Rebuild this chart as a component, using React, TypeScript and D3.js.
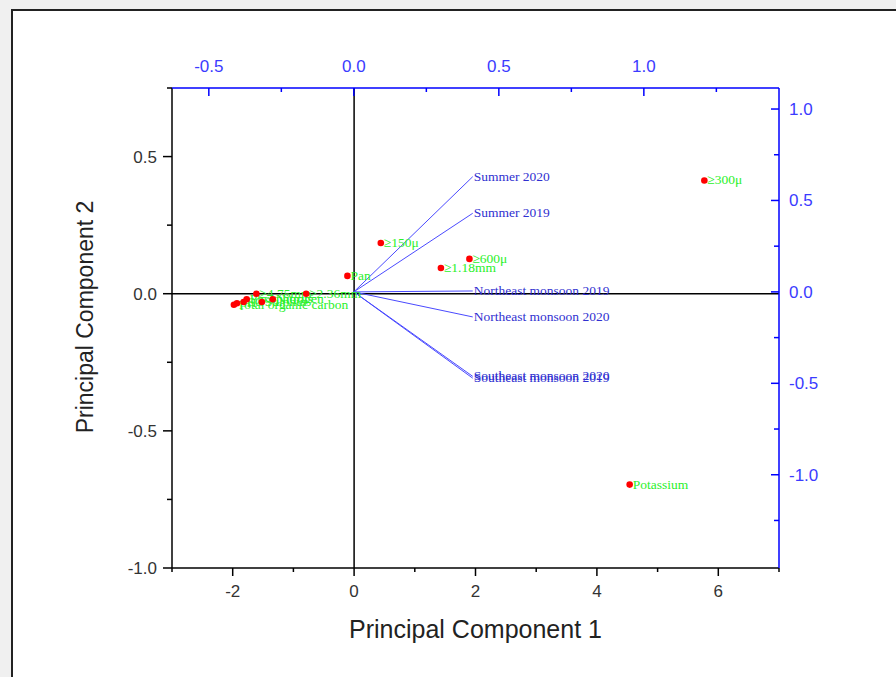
import React from "react";
import * as d3 from "d3";

// Scores (bottom/left axes)
const scoreNames = ["≥300μ", "Potassium", "≥150μ", "≥600μ", "≥1.18mm", "Pan", "≥4.75mm", "≥2.36mm", "Nitrogen", "Phosphorus", "EC", "pH", "Total organic carbon", "Sulphur"];
const scoreX = [5.77, 4.54, 0.44, 1.9, 1.43, -0.11, -1.61, -0.79, -1.34, -1.77, -1.82, -1.93, -1.98, -1.52];
const scoreY = [0.413, -0.696, 0.185, 0.127, 0.094, 0.065, 0.0, 0.0, -0.02, -0.02, -0.03, -0.035, -0.04, -0.03];

// Loadings (top/right axes)
const loadingNames = ["Summer 2020", "Summer 2019", "Northeast monsoon 2019", "Northeast monsoon 2020", "Southeast monsoon 2020", "Southeast monsoon 2019"];
const loadingX = [0.41, 0.41, 0.41, 0.41, 0.41, 0.41];
const loadingY = [0.63, 0.43, 0.005, -0.137, -0.462, -0.472];

const bottomTicks = [-2, 0, 2, 4, 6];
const bottomMinor = [-3, -1, 1, 3, 5, 7];
const leftTicks = [-1.0, -0.5, 0.0, 0.5];
const leftMinor = [-0.75, -0.25, 0.25, 0.75];
const topTicks = [-0.5, 0.0, 0.5, 1.0];
const topMinor = [-0.25, 0.25, 0.75, 1.25];
const rightTicks = [-1.0, -0.5, 0.0, 0.5, 1.0];
const rightMinor = [-1.25, -0.75, -0.25, 0.25, 0.75];

const L = 172, R = 779, T = 88, B = 568;
const AXBLUE = "#0000ff";
const LBLBLUE = "#3b3bff";

export default function App() {
  const x1 = d3.scaleLinear().domain([-3, 7]).range([L, R]);
  const y1 = d3.scaleLinear().domain([-1, 0.75]).range([B, T]);
  const x2 = d3.scaleLinear().domain([-0.627, 1.466]).range([L, R]);
  const y2 = d3.scaleLinear().domain([-1.51, 1.115]).range([B, T]);
  const fmt = (v: number) => d3.format(".1f")(v).replace("\u2212", "-");
  const arial = "Arial, 'Liberation Sans', sans-serif";
  const serif = "'Times New Roman', 'Liberation Serif', serif";

  return (
    <svg width={896} height={677} style={{ position: "absolute", left: 0, top: 0 }}>
      <rect x={0} y={0} width={896} height={677} fill="#f0f0f0" />
      <rect x={12} y={10} width={900} height={700} fill="#fff" stroke="#222" strokeWidth={2} />

      {/* center lines */}
      <line x1={x1(0)} x2={x1(0)} y1={T} y2={B} stroke="#000" strokeWidth={1.5} />
      <line x1={L} x2={R} y1={y1(0)} y2={y1(0)} stroke="#000" strokeWidth={1.5} />

      {/* loadings */}
      {loadingNames.map((n, i) => (
        <g key={n}>
          <line x1={x2(0)} y1={y2(0)} x2={x2(loadingX[i])} y2={y2(loadingY[i])} stroke="#4a4aff" strokeWidth={1} />
          <text x={x2(loadingX[i]) + 1} y={y2(loadingY[i]) + 4} fontFamily={serif} fontSize={13.5} fill="#3030d0">{n}</text>
        </g>
      ))}

      {/* scores */}
      {scoreNames.map((n, i) => (
        <g key={n}>
          <text x={x1(scoreX[i]) + 3} y={y1(scoreY[i]) + 4} fontFamily={serif} fontSize={13.5} fill="#2af02a">{n}</text>
        </g>
      ))}
      {scoreNames.map((n, i) => (
        <circle key={n + "c"} cx={x1(scoreX[i])} cy={y1(scoreY[i])} r={3.3} fill="#ff0000" />
      ))}

      {/* bottom axis */}
      <line x1={L} x2={R} y1={B} y2={B} stroke="#000" strokeWidth={1.5} />
      {bottomTicks.map(t => (
        <g key={"b" + t}>
          <line x1={x1(t)} x2={x1(t)} y1={B} y2={B + 8} stroke="#000" strokeWidth={1.5} />
          <text x={x1(t)} y={B + 29} textAnchor="middle" fontFamily={arial} fontSize={17} fill="#333">{fmt(t).replace(".0", "")}</text>
        </g>
      ))}
      {bottomMinor.map(t => (
        <line key={"bm" + t} x1={x1(t)} x2={x1(t)} y1={B} y2={B + 4} stroke="#000" strokeWidth={1.5} />
      ))}

      {/* left axis */}
      <line x1={L} x2={L} y1={T} y2={B} stroke="#000" strokeWidth={1.5} />
      {leftTicks.map(t => (
        <g key={"l" + t}>
          <line x1={L - 9} x2={L} y1={y1(t)} y2={y1(t)} stroke="#000" strokeWidth={1.5} />
          <text x={L - 15} y={y1(t) + 6} textAnchor="end" fontFamily={arial} fontSize={17} fill="#333">{fmt(t)}</text>
        </g>
      ))}
      {leftMinor.map(t => (
        <line key={"lm" + t} x1={L - 5} x2={L} y1={y1(t)} y2={y1(t)} stroke="#000" strokeWidth={1.5} />
      ))}

      {/* top axis */}
      <line x1={L} x2={R} y1={T} y2={T} stroke={AXBLUE} strokeWidth={1.5} />
      {topTicks.map(t => (
        <g key={"t" + t}>
          <line x1={x2(t)} x2={x2(t)} y1={T} y2={T + 8} stroke={AXBLUE} strokeWidth={1.5} />
          <text x={x2(t)} y={T - 16} textAnchor="middle" fontFamily={arial} fontSize={17} fill={LBLBLUE}>{fmt(t)}</text>
        </g>
      ))}
      {topMinor.map(t => (
        <line key={"tm" + t} x1={x2(t)} x2={x2(t)} y1={T} y2={T + 4} stroke={AXBLUE} strokeWidth={1.5} />
      ))}

      {/* right axis */}
      <line x1={R} x2={R} y1={T} y2={B} stroke={AXBLUE} strokeWidth={1.5} />
      {rightTicks.map(t => (
        <g key={"r" + t}>
          <line x1={R - 8} x2={R} y1={y2(t)} y2={y2(t)} stroke={AXBLUE} strokeWidth={1.5} />
          <text x={R + 10} y={y2(t) + 6} textAnchor="start" fontFamily={arial} fontSize={17} fill={LBLBLUE}>{fmt(t)}</text>
        </g>
      ))}
      {rightMinor.map(t => (
        <line key={"rm" + t} x1={R - 5} x2={R} y1={y2(t)} y2={y2(t)} stroke={AXBLUE} strokeWidth={1.5} />
      ))}

      {/* axis titles */}
      <text x={(L + R) / 2} y={638} textAnchor="middle" fontFamily={arial} fontSize={25} fill="#222">Principal Component 1</text>
      <text transform={`translate(93, 317) rotate(-90)`} textAnchor="middle" fontFamily={arial} fontSize={23} fill="#222">Principal Component 2</text>
    </svg>
  );
}
